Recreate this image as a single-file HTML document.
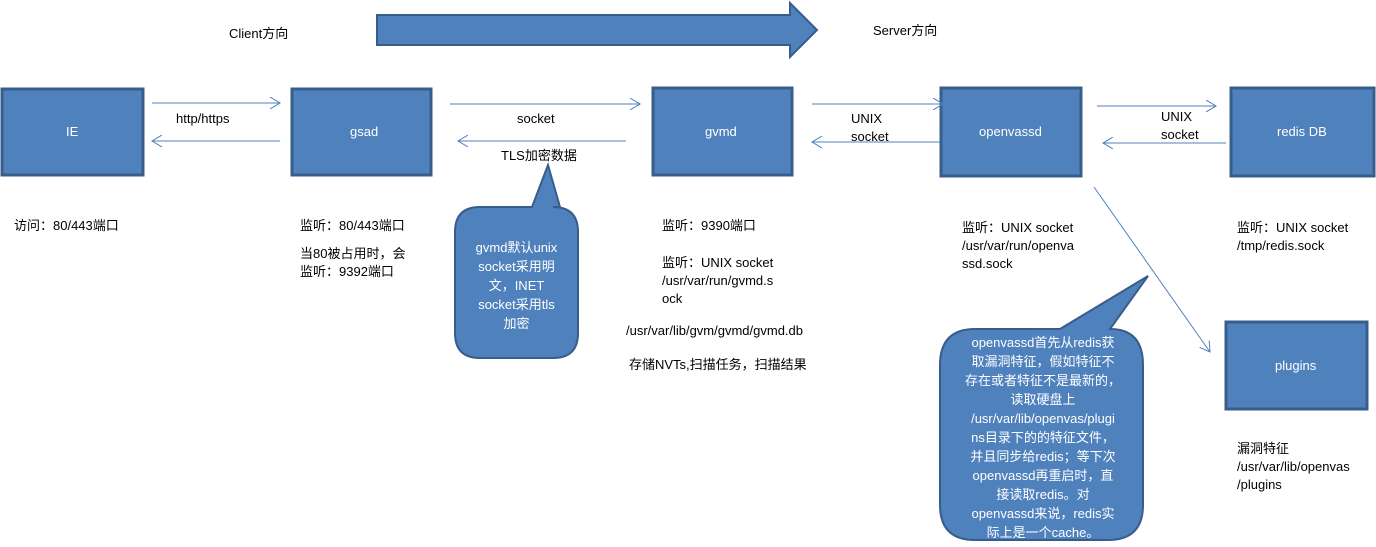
<!DOCTYPE html>
<html><head><meta charset="utf-8"><style>
body{margin:0;width:1376px;height:547px;background:#fff;position:relative;overflow:hidden;font-family:"Liberation Sans","Noto Sans CJK SC",sans-serif;font-size:13px;color:#000}
.t{position:absolute;line-height:18px;white-space:nowrap}
.w{color:#fff}
.c{text-align:center}
</style></head><body>
<svg width="1376" height="547" style="position:absolute;left:0;top:0">
<defs><marker id="a" markerWidth="12" markerHeight="12" refX="10" refY="6" orient="auto" markerUnits="userSpaceOnUse"><path d="M0,0 L10,6 L0,12" fill="none" stroke="#4f81bd" stroke-width="1"/></marker></defs>
<path d="M377,15 H790 V3 L817,30 L790,57 V45 H377 Z" fill="#4f81bd" stroke="#385d8a" stroke-width="2"/>
<g fill="#4f81bd" stroke="#385d8a" stroke-width="3">
<rect x="2" y="89" width="141" height="86"/>
<rect x="292" y="89" width="139" height="86"/>
<rect x="653" y="88" width="139" height="87"/>
<rect x="941" y="88" width="140" height="88"/>
<rect x="1231" y="88" width="143" height="88"/>
<rect x="1226" y="322" width="141" height="87"/>
</g>
<g stroke="#4f81bd" stroke-width="1" marker-end="url(#a)">
<line x1="152" y1="103" x2="280" y2="103"/>
<line x1="280" y1="141" x2="152" y2="141"/>
<line x1="450" y1="104" x2="640" y2="104"/>
<line x1="626" y1="141" x2="458" y2="141"/>
<line x1="812" y1="104" x2="943" y2="104"/>
<line x1="940" y1="142" x2="812" y2="142"/>
<line x1="1097" y1="106" x2="1216" y2="106"/>
<line x1="1226" y1="143" x2="1103" y2="143"/>
<line x1="1094" y1="187" x2="1210" y2="352"/>
</g>
<path d="M480,207 H532 L548,165 L560,207 H553 Q578,207 578,232 V333 Q578,358 553,358 H480 Q455,358 455,333 V232 Q455,207 480,207 Z" fill="#4f81bd" stroke="#385d8a" stroke-width="2"/>
<path d="M975,329 H1060 L1148,276 L1110,329 Q1143,329 1143,365 V505 Q1143,540 1108,540 H975 Q940,540 940,505 V365 Q940,329 975,329 Z" fill="#4f81bd" stroke="#385d8a" stroke-width="2"/>
</svg>
<div class="t" style="left:229px;top:25px">Client方向</div>
<div class="t" style="left:873px;top:22px">Server方向</div>
<div class="t w" style="left:66px;top:123px">IE</div>
<div class="t w" style="left:350px;top:123px">gsad</div>
<div class="t w" style="left:705px;top:123px">gvmd</div>
<div class="t w" style="left:979px;top:123px">openvassd</div>
<div class="t w" style="left:1277px;top:123px">redis DB</div>
<div class="t w" style="left:1275px;top:357px">plugins</div>
<div class="t" style="left:176px;top:110px">http/https</div>
<div class="t" style="left:517px;top:110px">socket</div>
<div class="t" style="left:501px;top:147px">TLS加密数据</div>
<div class="t" style="left:851px;top:110px">UNIX<br>socket</div>
<div class="t" style="left:1161px;top:108px">UNIX<br>socket</div>
<div class="t" style="left:14px;top:217px">访问：80/443端口</div>
<div class="t" style="left:300px;top:217px">监听：80/443端口</div>
<div class="t" style="left:300px;top:245px">当80被占用时，会<br>监听：9392端口</div>
<div class="t" style="left:662px;top:217px">监听：9390端口</div>
<div class="t" style="left:662px;top:254px">监听：UNIX socket<br>/usr/var/run/gvmd.s<br>ock</div>
<div class="t" style="left:626px;top:322px">/usr/var/lib/gvm/gvmd/gvmd.db</div>
<div class="t" style="left:629px;top:356px">存储NVTs,扫描任务，扫描结果</div>
<div class="t" style="left:962px;top:219px">监听：UNIX socket<br>/usr/var/run/openva<br>ssd.sock</div>
<div class="t" style="left:1237px;top:219px">监听：UNIX socket<br>/tmp/redis.sock</div>
<div class="t" style="left:1237px;top:440px">漏洞特征<br>/usr/var/lib/openvas<br>/plugins</div>
<div class="t w c" style="left:456px;top:238px;width:121px;line-height:19px">gvmd默认unix<br>socket采用明<br>文，INET<br>socket采用tls<br>加密</div>
<div class="t w c" style="left:940px;top:333px;width:206px;line-height:19px">openvassd首先从redis获<br>取漏洞特征，假如特征不<br>存在或者特征不是最新的，<br>读取硬盘上<br>/usr/var/lib/openvas/plugi<br>ns目录下的的特征文件，<br>并且同步给redis；等下次<br>openvassd再重启时，直<br>接读取redis。对<br>openvassd来说，redis实<br>际上是一个cache。</div>
</body></html>
